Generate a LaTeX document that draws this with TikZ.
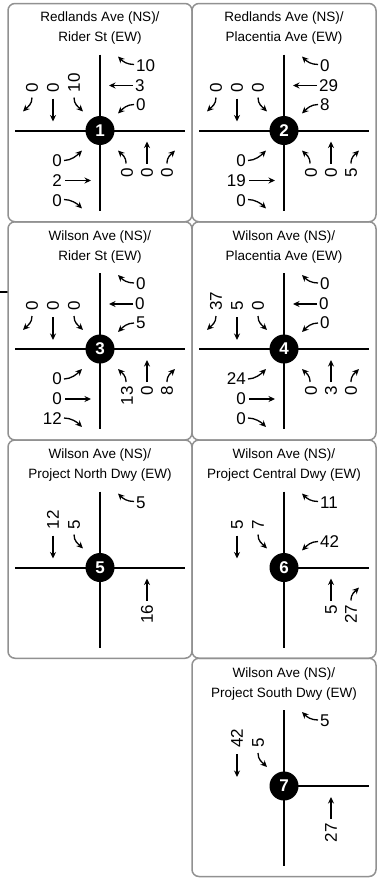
\documentclass[tikz,border=0pt]{standalone}
\usepackage{fontspec}
\setmainfont{Liberation Sans}
\usetikzlibrary{arrows.meta}
\definecolor{bord}{RGB}{145,145,145}
\newcommand\numfont{\fontsize{17}{17}\selectfont}
\newcommand\titfont{\fontsize{13.5}{13.5}\selectfont}
\tikzset{
 lbl/.style={font=\numfont, inner sep=0pt},
 vlbl/.style={font=\numfont, inner sep=0pt, rotate=90},
 arr/.style={line width=1.3pt, -{Stealth[length=6.5pt,width=6pt]}},
 road/.style={line width=2pt},
 panel/.style={draw=bord, line width=1.5pt, rounded corners=7pt},
 numc/.style={circle, fill=black, minimum size=29pt, inner sep=0pt, text=white, font=\fontsize{17}{17}\selectfont\bfseries},
 tit/.style={font=\titfont, inner sep=0pt},
}
% movements (relative to intersection centre, y downward)
\newcommand\WBR[2]{\draw[arr] (34,-66) .. controls (27,-66) and (23,-69) .. (18,-74); \node[lbl,anchor=west] (#1wbr) at (36,-65) {#2};}
\newcommand\WBT[2]{\draw[arr] (33,-45) -- (9,-45); \node[lbl,anchor=west] (#1wbt) at (35,-45) {#2};}
\newcommand\WBL[2]{\draw[arr] (34,-26) .. controls (27,-26) and (23,-22) .. (18,-17); \node[lbl,anchor=west] (#1wbl) at (36,-26) {#2};}
\newcommand\SBR[2]{\draw[arr] (-68,-33) .. controls (-68,-26) and (-72,-24) .. (-77,-19); \node[vlbl,anchor=west] (#1sbr) at (-68,-38) {#2};}
\newcommand\SBT[2]{\draw[arr] (-47,-32) -- (-47,-9); \node[vlbl,anchor=west] (#1sbt) at (-47,-38) {#2};}
\newcommand\SBL[2]{\draw[arr] (-26,-33) .. controls (-26,-26) and (-22,-24) .. (-17,-19); \node[vlbl,anchor=west] (#1sbl) at (-26,-38) {#2};}
\newcommand\EBL[2]{\draw[arr] (-36,30) .. controls (-29,30) and (-23,25) .. (-18,20); \node[lbl,anchor=east] (#1ebl) at (-38,30) {#2};}
\newcommand\EBT[2]{\draw[arr] (-35,50) -- (-9,50); \node[lbl,anchor=east] (#1ebt) at (-38,50) {#2};}
\newcommand\EBR[2]{\draw[arr] (-36,69) .. controls (-29,69) and (-23,73) .. (-18,78); \node[lbl,anchor=east] (#1ebr) at (-38,70) {#2};}
\newcommand\NBL[2]{\draw[arr] (26,33) .. controls (26,26) and (22,24) .. (18,20); \node[vlbl,anchor=east] (#1nbl) at (27,37) {#2};}
\newcommand\NBT[2]{\draw[arr] (47,33) -- (47,11); \node[vlbl,anchor=east] (#1nbt) at (47,37) {#2};}
\newcommand\NBR[2]{\draw[arr] (67,33) .. controls (67,26) and (71,24) .. (75,20); \node[vlbl,anchor=east] (#1nbr) at (67,37) {#2};}
\newcommand\titles[3]{\node[tit,anchor=base] (#1a) at (0,-109) {#2}; \node[tit,anchor=base] (#1b) at (0,-89) {#3};}
\newcommand\fullroads{\draw[road] (0,-76) -- (0,80); \draw[road] (-85,0) -- (85,0);}
\newcommand\teeroads{\draw[road] (0,-76) -- (0,80); \draw[road] (0,0) -- (85,0);}

\begin{document}
\begin{tikzpicture}[x=1pt,y=-1pt]
\useasboundingbox (0,0) rectangle (377,878);
\fill[white] (0,0) rectangle (377,878);
% stray line behind the panels
\draw[line width=2.5pt] (0,292) -- (377,292);
% panel fills
\foreach \a/\b/\c/\d in {8/3.5/192/221.75, 192/3.5/376/221.75, 8/221.75/192/440, 192/221.75/376/440, 8/440/192/658.25, 192/440/376/658.25, 192/658.25/376/876.5}
  \fill[white, rounded corners=7pt] (\a,\b) rectangle (\c,\d);
\foreach \a/\b/\c/\d in {8/3.5/192/221.75, 192/3.5/376/221.75, 8/221.75/192/440, 192/221.75/376/440, 8/440/192/658.25, 192/440/376/658.25, 192/658.25/376/876.5}
  \draw[panel] (\a,\b) rectangle (\c,\d);

% 1
\begin{scope}[shift={(100,130.5)}]
\titles{t1}{Redlands Ave (NS)/}{Rider St (EW)}
\fullroads
\WBR{i1}{10}\WBT{i1}{3}\WBL{i1}{0}
\SBR{i1}{0}\SBT{i1}{0}\SBL{i1}{10}
\EBL{i1}{0}\EBT{i1}{2}\EBR{i1}{0}
\NBL{i1}{0}\NBT{i1}{0}\NBR{i1}{0}
\node[numc] (n1) at (0,0) {1};
\end{scope}
% 2
\begin{scope}[shift={(284,130.5)}]
\titles{t2}{Redlands Ave (NS)/}{Placentia Ave (EW)}
\fullroads
\WBR{i2}{0}\WBT{i2}{29}\WBL{i2}{8}
\SBR{i2}{0}\SBT{i2}{0}\SBL{i2}{0}
\EBL{i2}{0}\EBT{i2}{19}\EBR{i2}{0}
\NBL{i2}{0}\NBT{i2}{0}\NBR{i2}{5}
\node[numc] (n2) at (0,0) {2};
\end{scope}
% 3
\begin{scope}[shift={(100,349)}]
\titles{t3}{Wilson Ave (NS)/}{Rider St (EW)}
\fullroads
\WBR{i3}{0}\WBT{i3}{0}\WBL{i3}{5}
\SBR{i3}{0}\SBT{i3}{0}\SBL{i3}{0}
\EBL{i3}{0}\EBT{i3}{0}\EBR{i3}{12}
\NBL{i3}{13}\NBT{i3}{0}\NBR{i3}{8}
\node[numc] (n3) at (0,0) {3};
\end{scope}
% 4
\begin{scope}[shift={(284,349)}]
\titles{t4}{Wilson Ave (NS)/}{Placentia Ave (EW)}
\fullroads
\WBR{i4}{0}\WBT{i4}{0}\WBL{i4}{0}
\SBR{i4}{37}\SBT{i4}{5}\SBL{i4}{0}
\EBL{i4}{24}\EBT{i4}{0}\EBR{i4}{0}
\NBL{i4}{0}\NBT{i4}{3}\NBR{i4}{0}
\node[numc] (n4) at (0,0) {4};
\end{scope}
% 5
\begin{scope}[shift={(100,567.5)}]
\titles{t5}{Wilson Ave (NS)/}{Project North Dwy (EW)}
\fullroads
\WBR{i5}{5}
\SBT{i5}{12}\SBL{i5}{5}
\NBT{i5}{16}
\node[numc] (n5) at (0,0) {5};
\end{scope}
% 6
\begin{scope}[shift={(284,567.5)}]
\titles{t6}{Wilson Ave (NS)/}{Project Central Dwy (EW)}
\teeroads
\WBR{i6}{11}\WBL{i6}{42}
\SBT{i6}{5}\SBL{i6}{7}
\NBT{i6}{5}\NBR{i6}{27}
\node[numc] (n6) at (0,0) {6};
\end{scope}
% 7
\begin{scope}[shift={(284,786)}]
\titles{t7}{Wilson Ave (NS)/}{Project South Dwy (EW)}
\teeroads
\WBR{i7}{5}
\SBT{i7}{42}\SBL{i7}{5}
\NBT{i7}{27}
\node[numc] (n7) at (0,0) {7};
\end{scope}
\end{tikzpicture}
\end{document}
